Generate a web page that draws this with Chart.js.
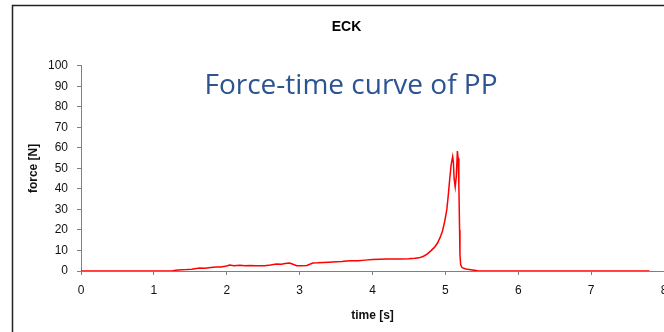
<!DOCTYPE html>
<html>
<head>
<meta charset="utf-8">
<script src="https://cdn.jsdelivr.net/npm/chart.js@4/dist/chart.umd.min.js"></script>
<style>
  html, body { margin: 0; padding: 0; width: 664px; height: 332px; overflow: hidden; background: #fff; }
  #wrap { position: absolute; left: 0; top: 0; width: 720px; height: 345px; }
</style>
</head>
<body>
<div id="wrap"><canvas id="c" width="720" height="345"></canvas></div>
<script>
const chartTitle = "ECK";
const overlayText = "Force-time curve of PP";
const xTitle = "time [s]";
const yTitle = "force [N]";
const xTicks = [0, 1, 2, 3, 4, 5, 6, 7, 8];
const yTicks = [0, 10, 20, 30, 40, 50, 60, 70, 80, 90, 100];

const times = [0, 1.25, 1.3, 1.38, 1.45, 1.52, 1.6, 1.63, 1.7, 1.78, 1.85, 1.92, 2.0, 2.04, 2.1, 2.18, 2.25, 2.32, 2.4, 2.45, 2.52, 2.6, 2.68, 2.75, 2.8, 2.86, 2.9, 2.96, 3.02, 3.1, 3.18, 3.25, 3.32, 3.4, 3.5, 3.58, 3.64, 3.72, 3.8, 3.9, 4.0, 4.1, 4.2, 4.3, 4.4, 4.5, 4.58, 4.64, 4.7, 4.75, 4.8, 4.85, 4.89, 4.93, 4.96, 4.99, 5.02, 5.04, 5.06, 5.08, 5.1, 5.11, 5.12, 5.135, 5.15, 5.165, 5.175, 5.185, 5.195, 5.2, 5.21, 5.23, 5.28, 5.35, 5.42, 5.45, 7.8];
const forces = [0, 0, 0.4, 0.6, 0.7, 0.9, 1.3, 1.5, 1.4, 1.7, 1.9, 2.0, 2.4, 2.9, 2.6, 2.8, 2.6, 2.7, 2.6, 2.5, 2.6, 2.9, 3.4, 3.3, 3.6, 3.9, 3.4, 2.6, 2.5, 2.7, 3.9, 4.0, 4.2, 4.3, 4.5, 4.6, 4.9, 5.0, 5.0, 5.3, 5.6, 5.7, 5.8, 5.8, 5.9, 6.0, 6.2, 6.4, 7.2, 8.2, 9.8, 11.5, 13.5, 16.5, 19.5, 24, 30, 37, 45, 52, 55.8, 53, 45, 41, 46, 58.5, 55, 42, 20, 8, 3, 1.6, 1.0, 0.6, 0.2, 0, 0];

const points = times.map((t, i) => ({ x: t, y: forces[i] }));

const framePlugin = {
  id: 'frame',
  beforeDraw(chart) {
    const ctx = chart.ctx;
    ctx.save();
    ctx.strokeStyle = '#222';
    ctx.lineWidth = 1.5;
    ctx.strokeRect(12.5, 5.5, 800, 400);
    ctx.restore();
  },
  afterDraw(chart) {
    const ctx = chart.ctx;
    ctx.save();
    ctx.fillStyle = '#2C5491';
    ctx.font = '28px "Open Sans"';
    ctx.textAlign = 'center';
    ctx.textBaseline = 'alphabetic';
    ctx.fillText(overlayText, 351, 94);
    ctx.restore();
  }
};

const axisGray = '#808080';

new Chart(document.getElementById('c'), {
  type: 'line',
  data: {
    datasets: [{
      data: points,
      borderColor: '#FF0000',
      borderWidth: 1.5,
      pointRadius: 0,
      tension: 0,
      fill: false
    }]
  },
  options: {
    responsive: false,
    animation: false,
    layout: { padding: { left: 29, right: 56, top: 5, bottom: 14 } },
    plugins: {
      legend: { display: false },
      tooltip: { enabled: false },
      title: {
        display: true,
        text: chartTitle,
        color: '#000',
        font: { family: '"Liberation Sans", Arial, sans-serif', size: 14, weight: 'bold' },
        padding: { top: 14, bottom: 30 }
      }
    },
    scales: {
      x: {
        type: 'linear',
        min: 0, max: 8,
        afterBuildTicks(scale) { scale.ticks = xTicks.map(v => ({ value: v })); },
        afterFit(scale) { scale.height = 60; },
        grid: { drawOnChartArea: false, drawTicks: true, tickLength: 4, color: axisGray },
        border: { color: axisGray, width: 1 },
        ticks: {
          color: '#111', padding: 8, maxRotation: 0, autoSkip: false,
          font: { family: '"Liberation Sans", Arial, sans-serif', size: 12 }
        },
        title: {
          display: true, text: xTitle, color: '#111',
          font: { family: '"Liberation Sans", Arial, sans-serif', size: 12, weight: 'bold' },
          padding: { top: 0, bottom: 8 }
        }
      },
      y: {
        min: 0, max: 100,
        afterBuildTicks(scale) { scale.ticks = yTicks.map(v => ({ value: v })); },
        afterFit(scale) { scale.width = 52; },
        grid: { drawOnChartArea: false, drawTicks: true, tickLength: 4, color: axisGray },
        border: { color: axisGray, width: 1 },
        ticks: {
          color: '#111', padding: 9,
          font: { family: '"Liberation Sans", Arial, sans-serif', size: 12 }
        },
        title: {
          display: true, text: yTitle, color: '#111',
          font: { family: '"Liberation Sans", Arial, sans-serif', size: 12, weight: 'bold' },
          padding: { top: -3, bottom: 0 }
        }
      }
    }
  },
  plugins: [framePlugin]
});
</script>
</body>
</html>
